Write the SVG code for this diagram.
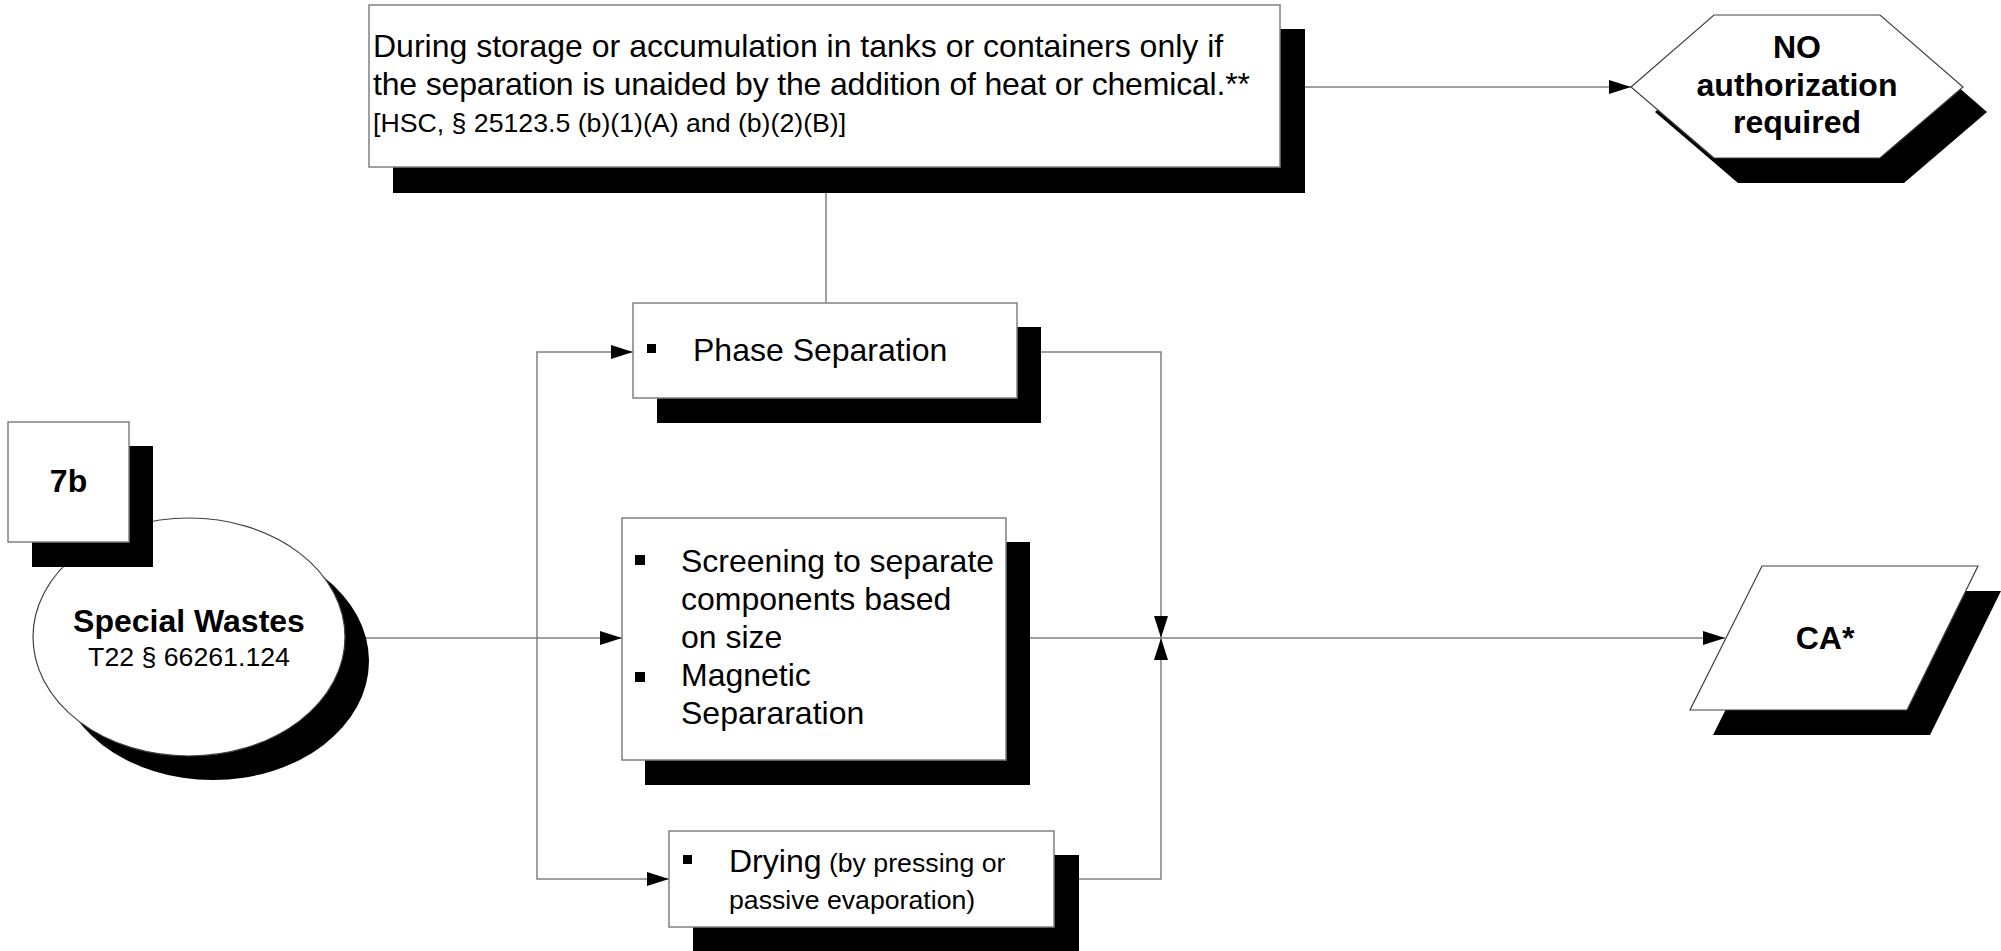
<svg xmlns="http://www.w3.org/2000/svg" width="2001" height="951" viewBox="0 0 2001 951">
<style>
.t{font-family:"Liberation Sans",Arial,sans-serif;fill:#000}
.b{font-weight:bold}
.box{fill:#fff;stroke:#808080;stroke-width:1.5}
.shape{fill:#fff;stroke:#404040;stroke-width:1.2}
.sh{fill:#000}
.ln{fill:none;stroke:#808080;stroke-width:1.5}
</style>
<defs>
<marker id="arr" markerUnits="userSpaceOnUse" markerWidth="22" markerHeight="14" refX="22" refY="7" orient="auto">
<path d="M0,0 L22,7 L0,14 z" fill="#000"/>
</marker>
</defs>
<rect width="2001" height="951" fill="#fff"/>
<g id="connectors">
<path class="ln" d="M1280,87 H1631" marker-end="url(#arr)"/>
<path class="ln" d="M826,167 V303"/>
<path class="ln" d="M345,638 H622" marker-end="url(#arr)"/>
<path class="ln" d="M537,638 V352 H633" marker-end="url(#arr)"/>
<path class="ln" d="M537,638 V879 H669" marker-end="url(#arr)"/>
<path class="ln" d="M1017,352 H1161 V638" marker-end="url(#arr)"/>
<path class="ln" d="M1054,879 H1161 V638" marker-end="url(#arr)"/>
<path class="ln" d="M1006,638 H1725" marker-end="url(#arr)"/>
</g>
<g id="node-storage">
<rect class="sh" x="393" y="29" width="912" height="164"/>
<rect class="box" x="369" y="5" width="911" height="162"/>
<text class="t" x="373" y="57" font-size="32">During storage or accumulation in tanks or containers only if</text>
<text class="t" x="373" y="95" font-size="32" textLength="877" lengthAdjust="spacing">the separation is unaided by the addition of heat or chemical.**</text>
<text class="t" x="373" y="132" font-size="26.7">[HSC, § 25123.5 (b)(1)(A) and (b)(2)(B)]</text>
</g>
<g id="node-no-auth">
<polygon class="sh" points="1655,112 1738,40 1904,40 1987,112 1904,183 1738,183"/>
<polygon class="shape" points="1631,87 1714,15 1880,15 1963,87 1880,158 1714,158"/>
<text class="t b" x="1797" y="58" font-size="32" text-anchor="middle">NO</text>
<text class="t b" x="1797" y="96" font-size="32" text-anchor="middle">authorization</text>
<text class="t b" x="1797" y="133" font-size="32" text-anchor="middle">required</text>
</g>
<g id="node-special-wastes">
<ellipse class="sh" cx="213" cy="661" rx="156" ry="119"/>
<ellipse class="shape" cx="189" cy="637" rx="156" ry="119"/>
<text class="t b" x="189" y="632" font-size="32" text-anchor="middle">Special Wastes</text>
<text class="t" x="189" y="666" font-size="26.7" text-anchor="middle">T22 § 66261.124</text>
</g>
<g id="node-7b">
<rect class="sh" x="32" y="446" width="121" height="121"/>
<rect class="box" x="8" y="422" width="121" height="120"/>
<text class="t b" x="68.5" y="492" font-size="32" text-anchor="middle">7b</text>
</g>
<g id="node-phase">
<rect class="sh" x="657" y="327" width="384" height="96"/>
<rect class="box" x="633" y="303" width="384" height="95"/>
<rect x="647" y="344" width="9" height="9" fill="#000"/>
<text class="t" x="693" y="361" font-size="32">Phase Separation</text>
</g>
<g id="node-screening">
<rect class="sh" x="645" y="542" width="385" height="243"/>
<rect class="box" x="622" y="518" width="384" height="242"/>
<rect x="635" y="555" width="10" height="10" fill="#000"/>
<rect x="635" y="672" width="10" height="10" fill="#000"/>
<text class="t" x="681" y="572" font-size="32">Screening to separate</text>
<text class="t" x="681" y="610" font-size="32">components based</text>
<text class="t" x="681" y="648" font-size="32">on size</text>
<text class="t" x="681" y="686" font-size="32">Magnetic</text>
<text class="t" x="681" y="724" font-size="32">Separaration</text>
</g>
<g id="node-drying">
<rect class="sh" x="693" y="855" width="386" height="96"/>
<rect class="box" x="669" y="831" width="385" height="96"/>
<rect x="683" y="855" width="9" height="9" fill="#000"/>
<text class="t" x="729" y="872" font-size="32">Drying<tspan font-size="26.7"> (by pressing or</tspan></text>
<text class="t" x="729" y="909" font-size="26.7">passive evaporation)</text>
</g>
<g id="node-ca">
<polygon class="sh" points="1785,591 2001,591 1930,735 1713,735"/>
<polygon class="shape" points="1762,566 1978,566 1907,710 1690,710"/>
<text class="t b" x="1825" y="649" font-size="32" text-anchor="middle">CA*</text>
</g>
</svg>
